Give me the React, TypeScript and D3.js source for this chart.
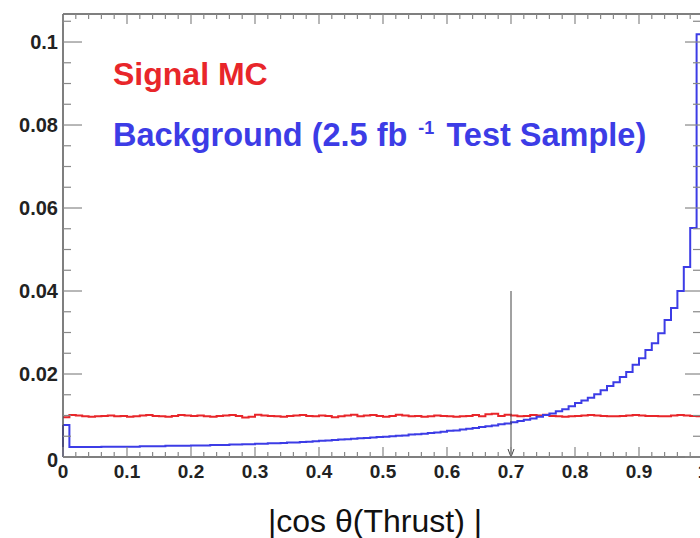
import React, { useEffect } from "react";
import * as d3 from "d3";

// ---- data ----
const binEdges = d3.range(0, 101).map((i) => i / 100);

const signalMC = [
  0.0096, 0.0101, 0.0100, 0.0098, 0.0097, 0.0098, 0.0099, 0.0100, 0.0098, 0.0099,
  0.0097, 0.0098, 0.0100, 0.0101, 0.0099, 0.0098, 0.0097, 0.0099, 0.0101, 0.0100,
  0.0099, 0.0100, 0.0098, 0.0097, 0.0099, 0.0100, 0.0101, 0.0099, 0.0095, 0.0097,
  0.0102, 0.0100, 0.0099, 0.0098, 0.0097, 0.0099, 0.0100, 0.0101, 0.0099, 0.0098,
  0.0100, 0.0099, 0.0096, 0.0098, 0.0100, 0.0102, 0.0098, 0.0100, 0.0101, 0.0099,
  0.0097, 0.0099, 0.0102, 0.0100, 0.0098, 0.0099, 0.0097, 0.0098, 0.0100, 0.0099,
  0.0098, 0.0097, 0.0098, 0.0099, 0.0101, 0.0098, 0.0103, 0.0104, 0.0099, 0.0102,
  0.0100, 0.0098, 0.0099, 0.0101, 0.0100, 0.0102, 0.0099, 0.0098, 0.0097, 0.0098,
  0.0099, 0.0100, 0.0101, 0.0100, 0.0099, 0.0098, 0.0098, 0.0099, 0.0100, 0.0101,
  0.0100, 0.0099, 0.0099, 0.0098, 0.0098, 0.0100, 0.0101, 0.0100, 0.0099, 0.0098,
];

const background = [
  0.0077,
  0.0024, 0.0024, 0.0024, 0.0024, 0.0024, 0.0025, 0.0025, 0.0025, 0.0025, 0.0025,
  0.0025, 0.0026, 0.0026, 0.0026, 0.0026, 0.0027, 0.0027, 0.0027, 0.0027, 0.0028,
  0.0028, 0.0028, 0.0029, 0.0029, 0.0029, 0.0030, 0.0030, 0.0031, 0.0031, 0.0032,
  0.0032, 0.0033, 0.0033, 0.0034, 0.0035, 0.0035, 0.0036, 0.0037, 0.0038, 0.0039,
  0.0040, 0.0041, 0.0042, 0.0043, 0.0044, 0.0045, 0.0046, 0.0047, 0.0048, 0.0049,
  0.0050, 0.0051, 0.0052, 0.0054, 0.0055, 0.0056, 0.0058, 0.0059, 0.0061, 0.0063,
  0.0064, 0.0066, 0.0068, 0.0070, 0.0072, 0.0074, 0.0076, 0.0079, 0.0081,
  0.0084,
  0.0087, 0.0090, 0.0093, 0.0097, 0.0101, 0.0105, 0.0110, 0.0115, 0.0122,
  0.0130, 0.0136, 0.0143, 0.0151, 0.0161, 0.0171, 0.0180, 0.0193, 0.0205, 0.0222,
  0.0238, 0.0258, 0.0274, 0.0298, 0.0330, 0.0359, 0.0400, 0.0458, 0.0552, 0.1019,
];

const xTickValues = [0, 0.1, 0.2, 0.3, 0.4, 0.5, 0.6, 0.7, 0.8, 0.9, 1];
const xTickLabels = ["0", "0.1", "0.2", "0.3", "0.4", "0.5", "0.6", "0.7", "0.8", "0.9", "1"];
const yTickValues = [0, 0.02, 0.04, 0.06, 0.08, 0.1];
const yTickLabels = ["0", "0.02", "0.04", "0.06", "0.08", "0.1"];

const cutValue = 0.7;
const cutArrowTop = 0.04;

const legendLabels = ["Signal MC", "Background (2.5 fb", "-1", " Test Sample)"];
const xTitle = "|cos \u03b8(Thrust) |";

// ---- layout ----
const W = 700;
const H = 538;
const FONT = "'Liberation Sans', Arial, Helvetica, sans-serif";
const RED = "#e8262a";
const BLUE = "#3c3ce6";

export default function App() {
  useEffect(() => {
    document.body.style.margin = "0";
  }, []);

  const x = d3.scaleLinear().domain([0, 1]).range([63, 703]);
  const y = d3.scaleLinear().domain([0, 0.10675]).range([457, 14]);

  const stepLine = d3
    .line<[number, number]>()
    .x((d) => x(d[0]))
    .y((d) => y(d[1]))
    .curve(d3.curveStepAfter);

  const histPts = (vals: number[]): [number, number][] => {
    const pts: [number, number][] = vals.map((v, i) => [binEdges[i], v]);
    pts.push([binEdges[vals.length], vals[vals.length - 1]]);
    return pts;
  };

  const xMinor = d3.range(0, 1.0001, 0.02);
  const yMinor = d3.range(0, 0.1051, 0.005);
  const isMajorX = (v: number) => Math.abs(v * 10 - Math.round(v * 10)) < 1e-6;
  const isMajorY = (v: number) => Math.abs(v * 50 - Math.round(v * 50)) < 1e-6;

  const frameColor = "#555";
  const tickColor = "#888";

  return (
    <svg width={W} height={H} style={{ display: "block", background: "#fff" }}>
      <rect x={0} y={0} width={W} height={H} fill="#fff" />

      {/* histograms */}
      <path d={stepLine(histPts(signalMC)) || ""} fill="none" stroke={RED} strokeWidth={2} />
      <path d={stepLine(histPts(background)) || ""} fill="none" stroke={BLUE} strokeWidth={2} />
      {/* left edge of background histogram */}
      <line x1={x(0)} x2={x(0)} y1={y(0)} y2={y(background[0])} stroke={BLUE} strokeWidth={2} />

      {/* cut arrow */}
      <line x1={x(cutValue)} x2={x(cutValue)} y1={y(cutArrowTop)} y2={y(0)} stroke="#444" strokeWidth={1} />
      <path
        d={`M${x(cutValue) - 3},${y(0) - 8} L${x(cutValue)},${y(0)} L${x(cutValue) + 3},${y(0) - 8}`}
        fill="none"
        stroke="#444"
        strokeWidth={1}
      />

      {/* frame */}
      <line x1={x(0)} x2={x(0)} y1={y.range()[1]} y2={y(0)} stroke={frameColor} strokeWidth={1.5} />
      <line x1={x(0)} x2={x(1)} y1={y(0)} y2={y(0)} stroke={frameColor} strokeWidth={1.5} />
      <line x1={x(0)} x2={x(1)} y1={y.range()[1]} y2={y.range()[1]} stroke={frameColor} strokeWidth={1.5} />
      <line x1={x(1)} x2={x(1)} y1={y.range()[1]} y2={y(0)} stroke={frameColor} strokeWidth={1.5} />

      {/* x ticks bottom and top */}
      {xMinor.map((v, i) => {
        const len = isMajorX(v) ? 10 : 5;
        return (
          <g key={"xt" + i}>
            <line x1={x(v)} x2={x(v)} y1={y(0)} y2={y(0) - len} stroke={tickColor} strokeWidth={1.2} />
            <line x1={x(v)} x2={x(v)} y1={y.range()[1]} y2={y.range()[1] + len} stroke={tickColor} strokeWidth={1.2} />
          </g>
        );
      })}
      {/* y ticks left and right */}
      {yMinor.map((v, i) => {
        const major = isMajorY(v);
        return (
          <g key={"yt" + i}>
            <line x1={x(0)} x2={x(0) + (major ? 19 : 8)} y1={y(v)} y2={y(v)} stroke={tickColor} strokeWidth={1.2} />
            <line x1={x(1)} x2={x(1) - (major ? 18 : 10)} y1={y(v)} y2={y(v)} stroke={tickColor} strokeWidth={1.2} />
          </g>
        );
      })}

      {/* tick labels */}
      {xTickValues.map((v, i) => (
        <text
          key={"xl" + i}
          x={x(v)}
          y={478}
          textAnchor="middle"
          fontFamily={FONT}
          fontWeight="bold"
          fontSize={19}
          fill="#222"
        >
          {xTickLabels[i]}
        </text>
      ))}
      {yTickValues.map((v, i) => (
        <text
          key={"yl" + i}
          x={58}
          y={y(v) + 7 + (v === 0 ? 3 : 0)}
          textAnchor="end"
          fontFamily={FONT}
          fontWeight="bold"
          fontSize={20}
          fill="#222"
        >
          {yTickLabels[i]}
        </text>
      ))}

      {/* x title */}
      <text x={375} y={532} textAnchor="middle" fontFamily={FONT} fontSize={32} fill="#111">
        {xTitle}
      </text>

      {/* legend texts */}
      <text x={113} y={85} fontFamily={FONT} fontWeight="bold" fontSize={32} fill={RED}>
        {legendLabels[0]}
      </text>
      <text x={113} y={146} fontFamily={FONT} fontWeight="bold" fontSize={32.5} fill={BLUE}>
        {legendLabels[1]}
        <tspan dx={11} dy={-12} fontSize={18}>
          {legendLabels[2]}
        </tspan>
        <tspan dx={3} dy={12}>{legendLabels[3]}</tspan>
      </text>
    </svg>
  );
}
